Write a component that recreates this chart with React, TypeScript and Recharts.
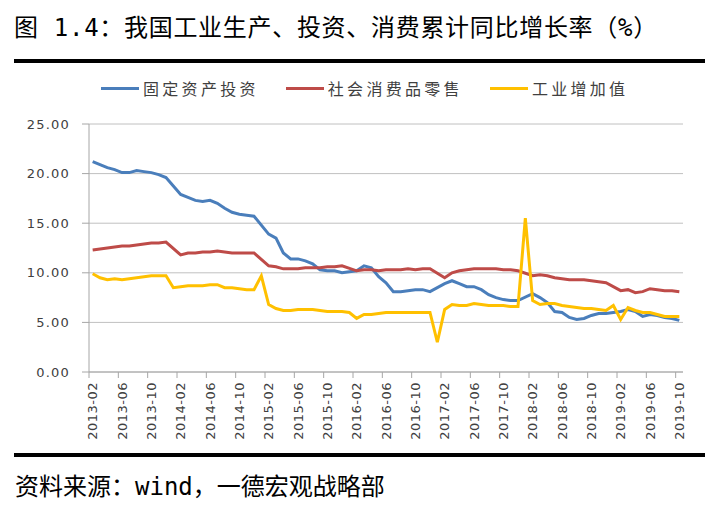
import { LineChart, Line, XAxis, YAxis, CartesianGrid } from "recharts";

// 2013-02 ~ 2019-10, monthly (Jan is missing for the cumulative series)
const START_YEAR = 2013;
const MONTHS: string[] = [];
for (let y = START_YEAR; y <= 2019; y++) {
  for (let m = 1; m <= 12; m++) {
    if (y === 2013 && m < 2) continue;
    if (y === 2019 && m > 10) continue;
    MONTHS.push(`${y}-${String(m).padStart(2, "0")}`);
  }
}

// 固定资产投资
const FAI = [
  21.2, 20.9, 20.6, 20.4, 20.1, 20.1, 20.3, 20.2, 20.1, 19.9, 19.6,
  null, 17.9, 17.6, 17.3, 17.2, 17.3, 17.0, 16.5, 16.1, 15.9, 15.8, 15.7,
  null, 13.9, 13.5, 12.0, 11.4, 11.4, 11.2, 10.9, 10.3, 10.2, 10.2, 10.0,
  null, 10.2, 10.7, 10.5, 9.6, 9.0, 8.1, 8.1, 8.2, 8.3, 8.3, 8.1,
  null, 8.9, 9.2, 8.9, 8.6, 8.6, 8.3, 7.8, 7.5, 7.3, 7.2, 7.2,
  null, 7.9, 7.5, 7.0, 6.1, 6.0, 5.5, 5.3, 5.4, 5.7, 5.9, 5.9,
  null, 6.1, 6.3, 6.1, 5.6, 5.8, 5.7, 5.5, 5.4, 5.2,
];

// 社会消费品零售
const RETAIL = [
  12.3, 12.4, 12.5, 12.6, 12.7, 12.7, 12.8, 12.9, 13.0, 13.0, 13.1,
  null, 11.8, 12.0, 12.0, 12.1, 12.1, 12.2, 12.1, 12.0, 12.0, 12.0, 12.0,
  null, 10.7, 10.6, 10.4, 10.4, 10.4, 10.5, 10.5, 10.5, 10.6, 10.6, 10.7,
  null, 10.2, 10.3, 10.3, 10.2, 10.3, 10.3, 10.3, 10.4, 10.3, 10.4, 10.4,
  null, 9.5, 10.0, 10.2, 10.3, 10.4, 10.4, 10.4, 10.4, 10.3, 10.3, 10.2,
  null, 9.7, 9.8, 9.7, 9.5, 9.4, 9.3, 9.3, 9.3, 9.2, 9.1, 9.0,
  null, 8.2, 8.3, 8.0, 8.1, 8.4, 8.3, 8.2, 8.2, 8.1,
];

// 工业增加值
const IVA = [
  9.9, 9.5, 9.3, 9.4, 9.3, 9.4, 9.5, 9.6, 9.7, 9.7, 9.7,
  8.5, 8.6, 8.7, 8.7, 8.7, 8.8, 8.8, 8.5, 8.5, 8.4, 8.3, 8.3,
  9.7, 6.8, 6.4, 6.2, 6.2, 6.3, 6.3, 6.3, 6.2, 6.1, 6.1, 6.1,
  6.0, 5.4, 5.8, 5.8, 5.9, 6.0, 6.0, 6.0, 6.0, 6.0, 6.0, 6.0,
  3.0, 6.3, 6.8, 6.7, 6.7, 6.9, 6.8, 6.7, 6.7, 6.7, 6.6, 6.6,
  15.5, 7.2, 6.8, 6.9, 6.9, 6.7, 6.6, 6.5, 6.4, 6.4, 6.3, 6.2,
  6.7, 5.3, 6.5, 6.2, 6.0, 6.0, 5.8, 5.6, 5.6, 5.6,
];

const Y_TICKS = [0, 5, 10, 15, 20, 25];

const SERIES = [
  { key: "fai", name: "固定资产投资", color: "#4a7ebb" },
  { key: "retail", name: "社会消费品零售", color: "#be4b48" },
  { key: "iva", name: "工业增加值", color: "#ffc000" },
];

const data = MONTHS.map((m, i) => ({ month: m, fai: FAI[i], retail: RETAIL[i], iva: IVA[i] }));

const CJK = '"DejaVu Sans Mono", "Noto Sans CJK SC", sans-serif';
const HALF = 594 / MONTHS.length / 2;

const MonthTick = ({ x, y, payload }: any) => (
  <g>
    <line x1={x - HALF} x2={x - HALF} y1={y} y2={y + 6} stroke="#a6a6a6" />
    <text
      transform={`translate(${x + 4.5},${y + 10}) rotate(-90)`}
      textAnchor="end"
      fontSize={13}
      letterSpacing={0.5}
      fill="#404040"
      fontFamily="DejaVu Sans"
    >
      {payload.value}
    </text>
  </g>
);

export default function App() {
  return (
    <div style={{ position: "absolute", left: 0, top: 0, width: 715, height: 513, background: "#fff", overflow: "hidden" }}>
      <div style={{ position: "absolute", left: 14, top: 12, fontFamily: CJK, fontSize: 24, letterSpacing: 0.7, lineHeight: "32px", color: "#000", whiteSpace: "nowrap" }}>
        图 1.4：我国工业生产、投资、消费累计同比增长率（%）
      </div>
      <div style={{ position: "absolute", left: 14, top: 59, width: 691, height: 4, background: "#000" }} />

      {/* 图例 */}
      <div style={{ position: "absolute", top: 76, left: 101, height: 24, display: "flex", alignItems: "center", fontFamily: '"Noto Sans CJK SC"', fontSize: 16, color: "#404040", letterSpacing: 3.3, whiteSpace: "nowrap" }}>
        {SERIES.map((s) => (
          <div key={s.key} style={{ display: "flex", alignItems: "center", marginRight: 27 }}>
            <div style={{ width: 38, height: 3, background: s.color, marginRight: 4 }} />
            <span>{s.name}</span>
          </div>
        ))}
      </div>

      <div style={{ position: "absolute", left: 0, top: 0 }}>
        <LineChart width={715} height={513} data={data} margin={{ top: 124, right: 32, bottom: 71, left: 0 }}>
          <CartesianGrid vertical={false} stroke="#c0c0c0" />
          <XAxis
            dataKey="month"
            interval={3}
            height={70}
            padding={{ left: HALF, right: HALF }}
            axisLine={{ stroke: "#a6a6a6" }}
            tickLine={false}
            tickSize={0}
            tickMargin={0}
            tick={<MonthTick />}
          />
          <YAxis
            width={89}
            domain={[0, 25]}
            ticks={Y_TICKS}
            tickFormatter={(v: number) => v.toFixed(2)}
            axisLine={{ stroke: "#a6a6a6" }}
            tickLine={{ stroke: "#a6a6a6" }}
            tickSize={7}
            tickMargin={12}
            tick={{ fontSize: 13, fill: "#404040", fontFamily: "DejaVu Sans", letterSpacing: 1.2 }}
          />
          {SERIES.map((s) => (
            <Line
              key={s.key}
              dataKey={s.key}
              name={s.name}
              stroke={s.color}
              strokeWidth={3}
              dot={false}
              connectNulls
              isAnimationActive={false}
            />
          ))}
        </LineChart>
      </div>

      <div style={{ position: "absolute", left: 14, top: 453, width: 691, height: 4, background: "#000" }} />
      <div style={{ position: "absolute", left: 15, top: 471, fontFamily: CJK, fontSize: 24, lineHeight: "32px", color: "#000", whiteSpace: "nowrap" }}>
        资料来源：wind，一德宏观战略部
      </div>
    </div>
  );
}
